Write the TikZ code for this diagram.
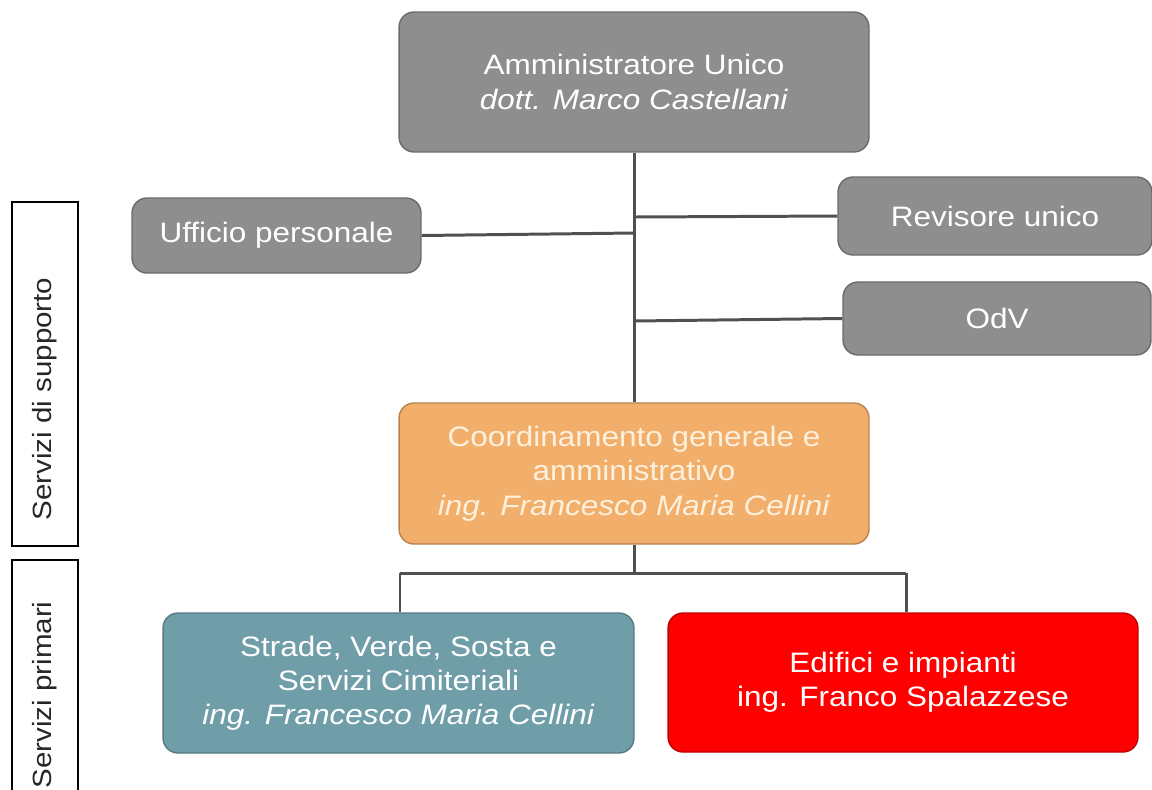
\documentclass[tikz,border=0pt]{standalone}
\usepackage{fontspec}
\setmainfont{Liberation Sans}[FakeStretch=1.12]
\definecolor{boxgray}{HTML}{8E8E8E}
\definecolor{boxgrayline}{HTML}{6A6A6A}
\definecolor{boxorange}{HTML}{F2AE6B}
\definecolor{boxorangeline}{HTML}{B8814E}
\definecolor{boxteal}{HTML}{6F9EA9}
\definecolor{boxtealline}{HTML}{557A83}
\definecolor{boxred}{HTML}{FF0000}
\definecolor{boxredline}{HTML}{C00000}
\definecolor{linkgray}{HTML}{505050}
\definecolor{cream}{HTML}{FDF1DE}
\begin{document}
\begin{tikzpicture}[x=0.02cm,y=-0.02cm,
  unit/.style={rounded corners=0.3cm,line width=0.8pt,inner sep=0pt,align=center,
    text=white,font=\fontsize{16}{19.5}\selectfont},
  grayunit/.style={unit,fill=boxgray,draw=boxgrayline},
  link/.style={draw=linkgray,line width=1.7pt},
  sidebox/.style={draw=black,line width=1.5pt,rotate=90,inner sep=0pt,
    minimum height=1.32cm,font=\fontsize{15}{18}\selectfont,text=black!85}]

\useasboundingbox (0,0) rectangle (1152,789);

\node[grayunit,minimum width=9.4cm,minimum height=2.8cm] (admin) at (634,82)
  {Amministratore Unico\\ \textit{dott. Marco Castellani}};
\node[grayunit,minimum width=5.78cm,minimum height=1.5cm] (uff) at (276.5,235.5)
  {Ufficio personale};
\node[grayunit,minimum width=6.28cm,minimum height=1.56cm] (rev) at (995,216)
  {Revisore unico};
\node[grayunit,minimum width=6.16cm,minimum height=1.46cm] (odv) at (997,318.5)
  {OdV};

\node[unit,fill=boxorange,draw=boxorangeline,text=cream,minimum width=9.4cm,minimum height=2.82cm] (coord) at (634,473.5)
  {Coordinamento generale e\\ amministrativo\\ \textit{ing. Francesco Maria Cellini}};

\node[unit,fill=boxteal,draw=boxtealline,minimum width=9.42cm,minimum height=2.8cm] (strade) at (398.5,683)
  {Strade, Verde, Sosta e\\ Servizi Cimiteriali\\ \textit{ing. Francesco Maria Cellini}};
\node[unit,fill=boxred,draw=boxredline,minimum width=9.4cm,minimum height=2.78cm] (edif) at (903,682.5)
  {Edifici e impianti\\ ing. Franco Spalazzese};

% side labels
\node[sidebox,minimum width=6.88cm] (supporto) at (45,374) {Servizi di supporto\kern1cm};
\node[sidebox,minimum width=5.4cm] (primari) at (45,695) {Servizi primari};

% connectors
\coordinate (juff) at (634,233);
\coordinate (jrev) at (634,217);
\coordinate (jodv) at (634,321);
\coordinate (jbus) at (634,573);
\coordinate (jleft) at (400,573);
\coordinate (jright) at (906,573);

\draw[link] (admin.south) -- (coord.north);
\draw[link] (uff.east) -- (juff);
\draw[link] (jrev) -- (rev.west);
\draw[link] (jodv) -- (odv.west);
\draw[link] (coord.south) -- (jbus);
\draw[link] (jleft) -- (jright);
\draw[link] (jleft) -- (jleft |- strade.north);
\draw[link] (jright) -- (jright |- edif.north);
\end{tikzpicture}
\end{document}
